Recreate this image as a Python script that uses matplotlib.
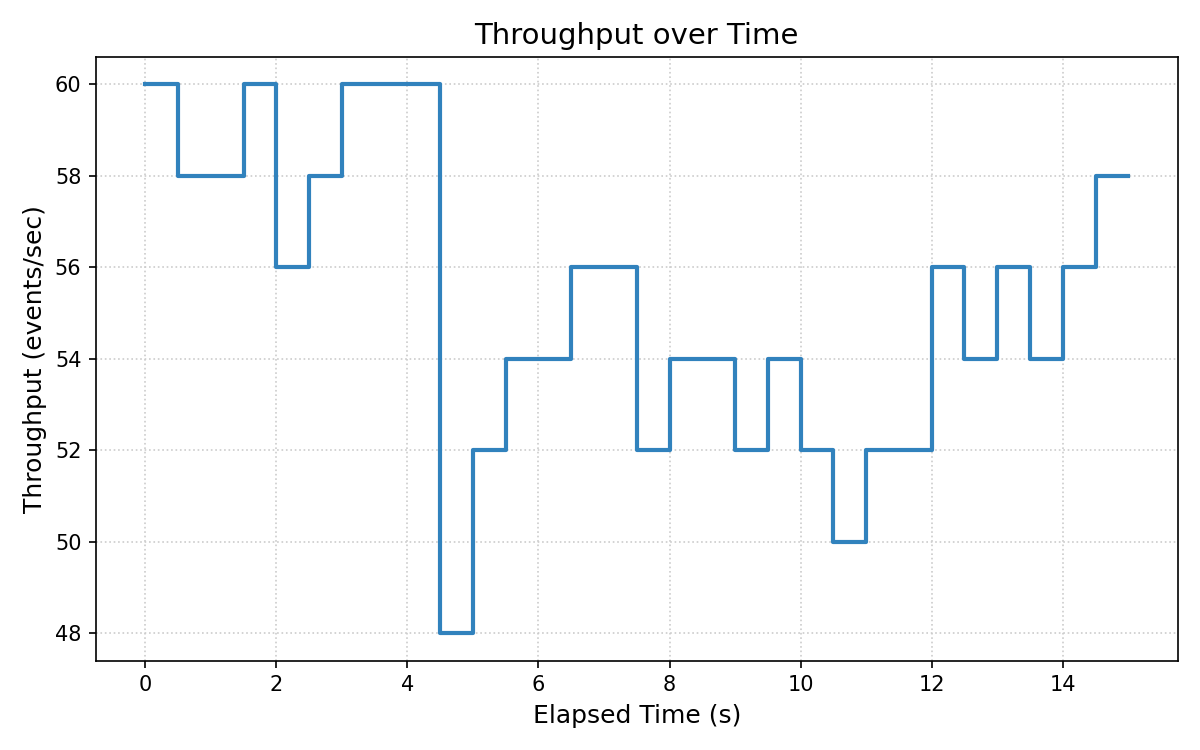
import numpy as np
import matplotlib
matplotlib.use("Agg")
import matplotlib.pyplot as plt

# elapsed time (s) and measured throughput (events/sec)
elapsed = [0.0, 0.5, 1.0, 1.5, 2.0, 2.5, 3.0, 3.5, 4.0, 4.5, 5.0, 5.5, 6.0, 6.5, 7.0,
           7.5, 8.0, 8.5, 9.0, 9.5, 10.0, 10.5, 11.0, 11.5, 12.0, 12.5, 13.0, 13.5,
           14.0, 14.5, 15.0]
throughput = [60, 58, 58, 60, 56, 58, 60, 60, 60, 48, 52, 54, 54, 56, 56,
              52, 54, 54, 52, 54, 52, 50, 52, 52, 56, 54, 56, 54,
              56, 58, 58]

fig, ax = plt.subplots(figsize=(8, 5), dpi=150)
ax.step(elapsed, throughput, where="post", color="#3182bd", linewidth=2)

ax.set_title("Throughput over Time", fontsize=14)
ax.set_xlabel("Elapsed Time (s)", fontsize=12)
ax.set_ylabel("Throughput (events/sec)", fontsize=12)
ax.grid(True, linestyle=":", color="#cccccc", linewidth=0.8)

fig.tight_layout()
fig.savefig("out.png", dpi=150)
